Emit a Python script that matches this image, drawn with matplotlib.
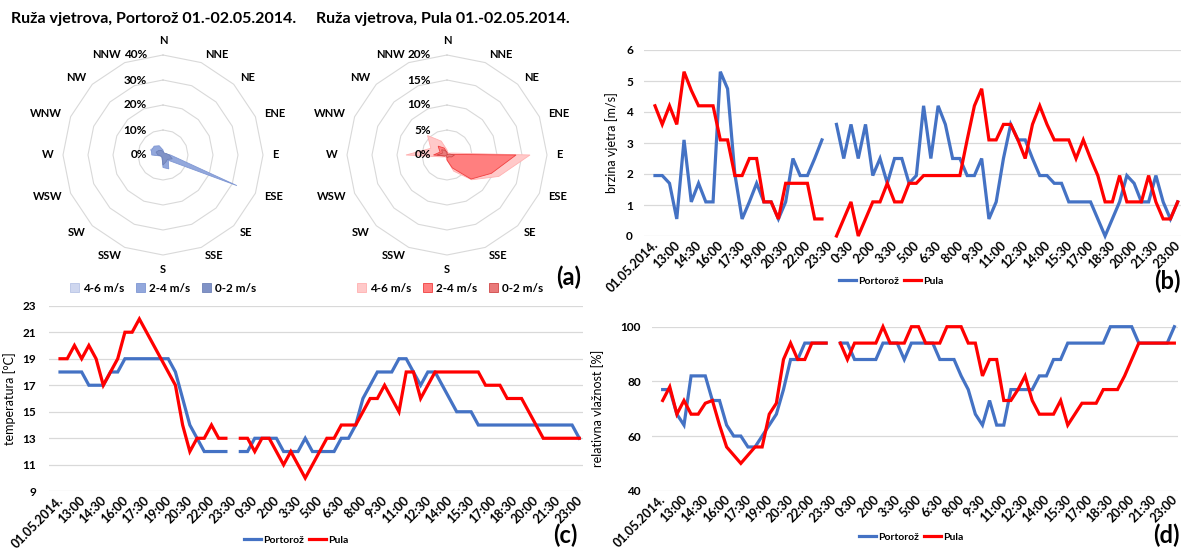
import numpy as np
import matplotlib
matplotlib.use('Agg')
import matplotlib.pyplot as plt
from matplotlib.patches import Patch
from matplotlib.lines import Line2D
import matplotlib.transforms as mtransforms

plt.rcParams['font.family'] = ['Lato', 'DejaVu Sans']

# ---------------- data ----------------
directions = ['N', 'NNE', 'NE', 'ENE', 'E', 'ESE', 'SE', 'SSE',
              'S', 'SSW', 'SW', 'WSW', 'W', 'WNW', 'NW', 'NNW']
speed_classes = ['4-6 m/s', '2-4 m/s', '0-2 m/s']

# wind rose, percentage of time per direction
portoroz_46 = [1.0, 0.0, 0.0, 0.5, 1.5, 3.0, 1.0, 1.5, 1.0, 0.0, 0.0, 0.5, 3.5, 5.5, 4.5, 3.0]
portoroz_24 = [2.0, 0.5, 0.5, 1.0, 3.0, 32.0, 3.0, 6.0, 5.0, 1.0, 0.5, 1.0, 4.5, 5.0, 5.0, 4.0]
portoroz_02 = [1.5, 1.0, 1.0, 1.5, 2.5, 4.0, 2.5, 3.0, 4.0, 1.0, 1.0, 1.0, 2.0, 3.0, 2.5, 2.0]

pula_46 = [1.0, 0.5, 0.5, 1.0, 16.6, 11.2, 7.0, 3.5, 1.0, 0.5, 0.5, 1.0, 8.2, 3.5, 5.5, 3.0]
pula_24 = [0.5, 0.0, 0.0, 0.3, 13.8, 9.6, 6.8, 2.8, 1.0, 0.0, 0.0, 0.5, 2.7, 1.5, 2.5, 1.5]
pula_02 = [0.5, 0.0, 0.2, 0.5, 1.5, 1.0, 0.5, 0.5, 0.5, 0.2, 0.2, 0.5, 2.0, 1.0, 1.5, 1.0]

# time axis: 01.05.2014. 12:00-23:30 (day 1), 02.05.2014. 0:00-23:30 (day 2)
day1_times = ['12:00', '12:30', '13:00', '13:30', '14:00', '14:30', '15:00', '15:30',
              '16:00', '16:30', '17:00', '17:30', '18:00', '18:30', '19:00', '19:30',
              '20:00', '20:30', '21:00', '21:30', '22:00', '22:30', '23:00', '23:30']
day2_times = ['0:00', '0:30', '1:00', '1:30', '2:00', '2:30', '3:00', '3:30', '4:00', '4:30',
              '5:00', '5:30', '6:00', '6:30', '7:00', '7:30', '8:00', '8:30', '9:00', '9:30',
              '10:00', '10:30', '11:00', '11:30', '12:00', '12:30', '13:00', '13:30',
              '14:00', '14:30', '15:00', '15:30', '16:00', '16:30', '17:00', '17:30',
              '18:00', '18:30', '19:00', '19:30', '20:00', '20:30', '21:00', '21:30',
              '22:00', '22:30', '23:00', '23:30']
categories = ['01.05.2014.'] + day1_times + ['02.05.2014.'] + day2_times

# wind speed [m/s]
wind_portoroz_d1 = [1.95, 1.95, 1.7, 0.55, 3.1, 1.1, 1.7, 1.1, 1.1, 5.3, 4.75, 2.0,
                    0.55, 1.1, 1.7, 1.1, 1.1, 0.55, 1.1, 2.5, 1.95, 1.95, 2.5, 3.1]
wind_pula_d1 = [4.2, 3.6, 4.2, 3.6, 5.3, 4.7, 4.2, 4.2, 4.2, 3.1, 3.1, 1.95,
                1.95, 2.5, 2.5, 1.1, 1.1, 0.55, 1.7, 1.7, 1.7, 1.7, 0.55, 0.55]
wind_portoroz_d2 = [3.6, 2.5, 3.6, 2.5, 3.6, 1.95, 2.5, 1.7, 2.5, 2.5,
                    1.7, 1.95, 4.2, 2.5, 4.2, 3.6, 2.5, 2.5, 1.95, 1.95,
                    2.5, 0.55, 1.1, 2.5, 3.6, 3.1, 3.1, 2.5, 1.95, 1.95,
                    1.7, 1.7, 1.1, 1.1, 1.1, 1.1, 0.55, 0.0, 0.55, 1.1,
                    1.95, 1.7, 1.1, 1.1, 1.95, 1.1, 0.55, 1.1]
wind_pula_d2 = [0.0, 0.55, 1.1, 0.0, 0.55, 1.1, 1.1, 1.7, 1.1, 1.1,
                1.7, 1.7, 1.95, 1.95, 1.95, 1.95, 1.95, 1.95, 3.1, 4.2,
                4.75, 3.1, 3.1, 3.6, 3.6, 3.1, 2.5, 3.6, 4.2, 3.6,
                3.1, 3.1, 3.1, 2.5, 3.1, 2.5, 1.95, 1.1, 1.1, 1.95,
                1.1, 1.1, 1.1, 1.95, 1.1, 0.55, 0.55, 1.1]

# temperature [°C]
temp_portoroz_d1 = [18, 18, 18, 18, 17, 17, 17, 18, 18, 19, 19, 19,
                    19, 19, 19, 19, 18, 16, 14, 13, 12, 12, 12, 12]
temp_pula_d1 = [19, 19, 20, 19, 20, 19, 17, 18, 19, 21, 21, 22,
                21, 20, 19, 18, 17, 14, 12, 13, 13, 14, 13, 13]
temp_portoroz_d2 = [12, 12, 13, 13, 13, 13, 12, 12, 12, 13,
                    12, 12, 12, 12, 13, 13, 14, 16, 17, 18,
                    18, 18, 19, 19, 18, 17, 18, 18, 17, 16,
                    15, 15, 15, 14, 14, 14, 14, 14, 14, 14,
                    14, 14, 14, 14, 14, 14, 14, 13]
temp_pula_d2 = [13, 13, 12, 13, 13, 12, 11, 12, 11, 10,
                11, 12, 13, 13, 14, 14, 14, 15, 16, 16,
                17, 16, 15, 18, 18, 16, 17, 18, 18, 18,
                18, 18, 18, 18, 17, 17, 17, 16, 16, 16,
                15, 14, 13, 13, 13, 13, 13, 13]

# relative humidity [%]
hum_portoroz_d1 = [77, 77, 68, 64, 82, 82, 82, 73, 73, 64, 60, 60,
                   56, 56, 60, 64, 68, 77, 88, 88, 94, 94, 94, 94]
hum_pula_d1 = [73, 78, 68, 73, 68, 68, 72, 73, 64, 56, 53, 50,
               53, 56, 56, 68, 72, 88, 94, 88, 88, 94, 94, 94]
hum_portoroz_d2 = [94, 94, 88, 88, 88, 88, 94, 94, 94, 88,
                   94, 94, 94, 94, 88, 88, 88, 82, 77, 68,
                   64, 73, 64, 64, 77, 77, 77, 77, 82, 82,
                   88, 88, 94, 94, 94, 94, 94, 94, 100, 100,
                   100, 100, 94, 94, 94, 94, 94, 100]
hum_pula_d2 = [94, 88, 94, 94, 94, 94, 100, 94, 94, 94,
               100, 100, 94, 94, 94, 100, 100, 100, 94, 94,
               82, 88, 88, 73, 73, 77, 82, 73, 68, 68,
               68, 73, 64, 68, 72, 72, 72, 77, 77, 77,
               82, 88, 94, 94, 94, 94, 94, 94]

tick_labels = ['01.05.2014.', '13:00', '14:30', '16:00', '17:30', '19:00', '20:30', '22:00',
               '23:30', '0:30', '2:00', '3:30', '5:00', '6:30', '8:00', '9:30', '11:00',
               '12:30', '14:00', '15:30', '17:00', '18:30', '20:00', '21:30', '23:00']

# ---------------- figure ----------------
W, H = 1184, 551
fig = plt.figure(figsize=(W / 100, H / 100), dpi=100)


def fx(px):
    return px / W


def fy(py):
    return 1 - py / H


BLUE = '#4472C4'
RED = '#FF0000'
GRID = '#d9d9d9'
TXT = '#000000'


def radar(cx, cy, R, rmax, rings, ring_labels, series, colors, edges, legend_cx):
    ax = fig.add_axes([fx(cx - R), fy(cy + R), 2 * R / W, 2 * R / H], projection='polar')
    ax.set_theta_zero_location('N')
    ax.set_theta_direction(-1)
    ax.set_ylim(0, rmax)
    ax.set_xticks([])
    ax.set_yticks([])
    ax.grid(False)
    ax.spines['polar'].set_visible(False)
    ax.patch.set_alpha(0)
    n = len(directions)
    theta = np.arange(n) * 2 * np.pi / n
    tc = np.append(theta, theta[0])
    for r in rings:
        ax.plot(tc, [r] * (n + 1), color=GRID, lw=0.8, zorder=0, clip_on=False)
    handles = []
    for vals, col, ec, lab in zip(series, colors, edges, speed_classes):
        v = np.append(vals, vals[0])
        ax.fill(tc, v, facecolor=col, edgecolor=ec, lw=0.6, zorder=2, clip_on=False)
        handles.append(Patch(facecolor=col, edgecolor=ec, lw=0.6, label=lab))
    # direction labels
    for th, name in zip(theta, directions):
        s = np.sin(th)
        if abs(s) < 1e-6:
            ha = 'center'
            va = 'bottom' if np.cos(th) > 0 else 'top'
        else:
            ha = 'left' if s > 0 else 'right'
            va = 'center'
        ax.text(th, rmax * 1.09, name, ha=ha, va=va, fontsize=8, fontweight='bold',
                color=TXT, clip_on=False)
    # radial labels
    off = mtransforms.ScaledTranslation(-16 / 100, 0, fig.dpi_scale_trans)
    for r, lab in zip([0] + list(rings), ring_labels):
        ax.text(0, r, lab, ha='right', va='center', fontsize=8.5, fontweight='bold',
                color=TXT, transform=ax.transData + off, clip_on=False)
    ax.legend(handles=handles, loc='center', bbox_to_anchor=(fx(legend_cx), fy(288)),
              bbox_transform=fig.transFigure, ncol=3, frameon=False,
              prop={'weight': 'bold', 'size': 8.5}, handlelength=0.8, handleheight=0.8,
              columnspacing=1.0, handletextpad=0.3)
    return ax


radar(163, 155, 100, 40, [10, 20, 30, 40], ['0%', '10%', '20%', '30%', '40%'],
      [portoroz_46, portoroz_24, portoroz_02],
      ['#cfd7ef', '#93a8dc', '#8092c6'], ['#b8c4e6', '#7f97d3', '#6f82b8'], 163)
radar(447, 155, 100, 20, [5, 10, 15, 20], ['0%', '5%', '10%', '15%', '20%'],
      [pula_46, pula_24, pula_02],
      ['#ffc9c9', '#ff7f7f', '#e97a7a'], ['#ffb0b0', '#f04040', '#d04848'], 450)

fig.text(fx(154), fy(19), 'Ruža vjetrova, Portorož 01.-02.05.2014.', ha='center', va='center',
         fontsize=11.5, fontweight='bold', color=TXT)
fig.text(fx(443), fy(19), 'Ruža vjetrova, Pula 01.-02.05.2014.', ha='center', va='center',
         fontsize=11.5, fontweight='bold', color=TXT)

x = np.arange(len(categories))


def full(d1, d2):
    return np.array([np.nan] + list(d1) + [np.nan] + list(d2), dtype=float)


def line_panel(left, right, top, bottom, ylim, yticks, port, pula, ylabel, ylabel_x,
               pad, legend_xy, letter_xy):
    ax = fig.add_axes([fx(left), fy(bottom), (right - left) / W, (bottom - top) / H])
    ax.plot(x, port, color=BLUE, lw=2.3, solid_joinstyle='miter', clip_on=False, zorder=3)
    ax.plot(x, pula, color=RED, lw=2.3, solid_joinstyle='miter', clip_on=False, zorder=4)
    ax.set_xlim(-0.5, len(categories) - 0.5)
    ax.set_ylim(*ylim)
    ax.set_yticks(yticks)
    ax.set_yticklabels([str(t) for t in yticks], fontweight='bold', fontsize=8.5)
    ax.yaxis.grid(True, color=GRID, lw=0.9)
    ax.set_axisbelow(True)
    for s in ax.spines.values():
        s.set_visible(False)
    ax.tick_params(axis='y', length=0, pad=pad)
    ax.tick_params(axis='x', length=0, pad=2)
    ticks = np.arange(0, len(categories), 3)
    ax.set_xticks(ticks)
    ax.set_xticklabels(tick_labels, rotation=45, ha='right', va='top', rotation_mode='anchor',
                       fontweight='bold', fontsize=9)
    shift = mtransforms.ScaledTranslation(4 / 100, 0, fig.dpi_scale_trans)
    for lab in ax.get_xticklabels():
        lab.set_transform(lab.get_transform() + shift)
    fig.text(fx(ylabel_x), fy((top + bottom) / 2), ylabel, rotation=90, ha='center',
             va='center', fontsize=9, color=TXT)
    handles = [Line2D([], [], color=BLUE, lw=2.3), Line2D([], [], color=RED, lw=2.3)]
    ax.legend(handles, ['Portorož', 'Pula'], loc='center',
              bbox_to_anchor=(fx(legend_xy[0]), fy(legend_xy[1])),
              bbox_transform=fig.transFigure, ncol=2, frameon=False,
              prop={'weight': 'bold', 'size': 7.5}, handlelength=1.6,
              columnspacing=0.5, handletextpad=0.2)
    fig.text(fx(letter_xy[0]), fy(letter_xy[1]), letter_xy[2], ha='center', va='center',
             fontsize=17, fontweight='bold', color=TXT)
    return ax


line_panel(644.1, 1181.3, 50, 236, (0, 6), [0, 1, 2, 3, 4, 5, 6],
           full(wind_portoroz_d1, wind_portoroz_d2), full(wind_pula_d1, wind_pula_d2),
           'brzina vjetra [m/s]', 612, 8, (891, 281), (1167, 281, '(b)'))
line_panel(49.2, 582.9, 305.7, 491.3, (9, 23), [9, 11, 13, 15, 17, 19, 21, 23],
           full(temp_portoroz_d1, temp_portoroz_d2), full(temp_pula_d1, temp_pula_d2),
           'temperatura [°C]', 10, 9.4, (296, 540), (565, 535, '(c)'))
line_panel(652.0, 1177.9, 326.7, 490.7, (40, 100), [40, 60, 80, 100],
           full(hum_portoroz_d1, hum_portoroz_d2), full(hum_pula_d1, hum_pula_d2),
           'relativna vlažnost [%]', 598, 8, (911, 537), (1166, 535, '(d)'))

fig.text(fx(569), fy(277), '(a)', ha='center', va='center', fontsize=17,
         fontweight='bold', color=TXT)

fig.savefig('out.png', dpi=100)
